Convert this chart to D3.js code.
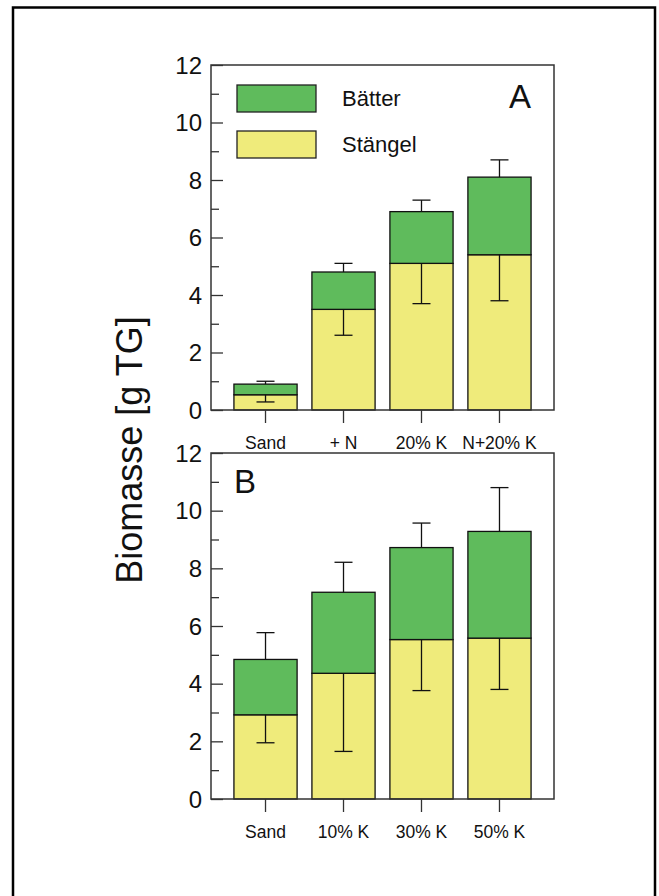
<!DOCTYPE html>
<html>
<head>
<meta charset="utf-8">
<script src="https://cdn.jsdelivr.net/npm/d3@7"></script>
<style>
  body { margin: 0; background: #fff; }
  svg { display: block; font-family: "Liberation Sans", Arial, sans-serif; }
</style>
</head>
<body>
<script>
// Daten: Panel A und B
const catsA = ["Sand", "+ N", "20% K", "N+20% K"];
const stemA = [0.53, 3.5, 5.1, 5.4];
const totalA = [0.9, 4.8, 6.9, 8.1];
const stemLowA = [0.28, 2.6, 3.7, 3.8];
const totalHighA = [1.0, 5.1, 7.3, 8.7];

const catsB = ["Sand", "10% K", "30% K", "50% K"];
const stemB = [2.92, 4.36, 5.53, 5.58];
const totalB = [4.84, 7.17, 8.72, 9.28];
const stemLowB = [1.95, 1.65, 3.76, 3.8];
const totalHighB = [5.77, 8.21, 9.57, 10.8];

const yTicks = [0, 2, 4, 6, 8, 10, 12];
const yMinor = [1, 3, 5, 7, 9, 11];
const legendLabels = ["Bätter", "Stängel"];

const width = 659, height = 896;
const green = "#5fbb5c", yellow = "#efeb7b";

const svg = d3.select("body").append("svg")
  .attr("width", width).attr("height", height);

// Außenrahmen (unten offen)
svg.append("path")
  .attr("d", `M13,${height + 5} V7.5 H655 V${height + 5}`)
  .attr("fill", "none").attr("stroke", "#000").attr("stroke-width", 2.5);

function panel(cats, stem, total, low, high, top, bottom, letter, letterPos) {
  const left = 211, right = 554;
  const x = d3.scaleBand().domain(cats).range([left, right])
    .paddingInner(0.19).paddingOuter(0.294);
  const y = d3.scaleLinear().domain([0, 12]).range([bottom, top]);
  const g = svg.append("g");

  const rows = cats.map((c, i) => ({c, stem: stem[i], total: total[i], low: low[i], high: high[i]}));

  const cap = 9;
  rows.forEach(d => {
    const cx = x(d.c) + x.bandwidth() / 2;
    // Balken
    g.append("rect").attr("x", x(d.c)).attr("width", x.bandwidth())
      .attr("y", y(d.stem)).attr("height", y(0) - y(d.stem))
      .attr("fill", yellow).attr("stroke", "#111").attr("stroke-width", 1.3);
    g.append("rect").attr("x", x(d.c)).attr("width", x.bandwidth())
      .attr("y", y(d.total)).attr("height", y(d.stem) - y(d.total))
      .attr("fill", green).attr("stroke", "#111").attr("stroke-width", 1.3);
    // Fehler Stängel (nach unten)
    g.append("line").attr("x1", cx).attr("x2", cx).attr("y1", y(d.stem)).attr("y2", y(d.low))
      .attr("stroke", "#111").attr("stroke-width", 1.3);
    g.append("line").attr("x1", cx - cap).attr("x2", cx + cap).attr("y1", y(d.low)).attr("y2", y(d.low))
      .attr("stroke", "#111").attr("stroke-width", 1.3);
    // Fehler gesamt (nach oben)
    g.append("line").attr("x1", cx).attr("x2", cx).attr("y1", y(d.total)).attr("y2", y(d.high))
      .attr("stroke", "#111").attr("stroke-width", 1.3);
    g.append("line").attr("x1", cx - cap).attr("x2", cx + cap).attr("y1", y(d.high)).attr("y2", y(d.high))
      .attr("stroke", "#111").attr("stroke-width", 1.3);
  });

  // Rahmen
  g.append("rect").attr("x", left).attr("y", top)
    .attr("width", right - left).attr("height", bottom - top)
    .attr("fill", "none").attr("stroke", "#333").attr("stroke-width", 1.5);

  // Y-Achse: Ticks nach innen
  const yAxis = g.append("g").attr("transform", `translate(${left},0)`)
    .call(d3.axisRight(y).tickValues(yTicks).tickSize(12).tickFormat(""));
  yAxis.select(".domain").remove();
  yAxis.selectAll("line").attr("stroke", "#333").attr("stroke-width", 1.3);
  const yMin = g.append("g").attr("transform", `translate(${left},0)`)
    .call(d3.axisRight(y).tickValues(yMinor).tickSize(8).tickFormat(""));
  yMin.select(".domain").remove();
  yMin.selectAll("line").attr("stroke", "#333").attr("stroke-width", 1.3);

  g.selectAll(".ylab").data(yTicks).join("text")
    .attr("x", 202).attr("y", d => y(d)).attr("dy", "0.36em")
    .attr("text-anchor", "end").attr("font-size", 24).attr("fill", "#111")
    .text(d => d);

  // X-Achse: Ticks nach außen
  const xAxis = g.append("g").attr("transform", `translate(0,${bottom})`)
    .call(d3.axisBottom(x).tickSize(13).tickSizeOuter(0).tickFormat(""));
  xAxis.select(".domain").remove();
  xAxis.selectAll("line").attr("stroke", "#333").attr("stroke-width", 1.3);

  g.selectAll(".xlab").data(cats).join("text")
    .attr("x", d => x(d) + x.bandwidth() / 2).attr("y", bottom + 33).attr("dy", "0.36em")
    .attr("text-anchor", "middle").attr("font-size", 17.5).attr("fill", "#111")
    .text(d => d);

  g.append("text").attr("x", letterPos[0]).attr("y", letterPos[1])
    .attr("font-size", 33).attr("fill", "#111").text(letter);
  return g;
}

panel(catsA, stemA, totalA, stemLowA, totalHighA, 65, 410, "A", [509, 108]);
panel(catsB, stemB, totalB, stemLowB, totalHighB, 453, 799, "B", [234, 493]);

// Legende
const leg = svg.append("g");
[green, yellow].forEach((col, i) => {
  leg.append("rect").attr("x", 237).attr("y", 85 + i * 46)
    .attr("width", 79).attr("height", 27)
    .attr("fill", col).attr("stroke", "#222").attr("stroke-width", 1.3);
  leg.append("text").attr("x", 342).attr("y", 98.5 + i * 46).attr("dy", "0.36em")
    .attr("font-size", 22).attr("fill", "#111").text(legendLabels[i]);
});

// Y-Achsentitel
svg.append("text")
  .attr("transform", "translate(142,450) rotate(-90)")
  .attr("text-anchor", "middle").attr("font-size", 36).attr("fill", "#111")
  .text("Biomasse [g TG]");
</script>
</body>
</html>
